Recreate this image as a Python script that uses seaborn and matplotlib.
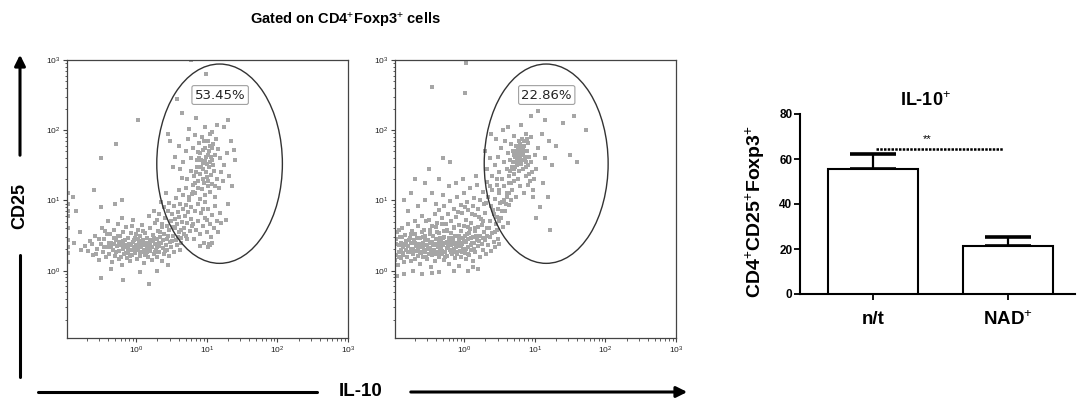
import matplotlib
matplotlib.use("Agg")
import numpy as np
import pandas as pd
import seaborn as sns
import matplotlib.pyplot as plt
from matplotlib.patches import Ellipse, FancyArrowPatch
from matplotlib.lines import Line2D
from matplotlib.ticker import LogLocator, NullFormatter, FixedLocator

# ---------------- data ----------------
# flow-cytometry events as (log10 IL-10, log10 CD25)
NT_POINTS = [
    (-0.72,0.35),(-0.68,0.28),(-0.65,0.42),(-0.61,0.22),(-0.58,0.50),(-0.55,0.31),(-0.53,0.15),(-0.50,0.38),(-0.49,0.61),(-0.47,0.27),
    (-0.45,0.45),(-0.43,0.19),(-0.41,0.33),(-0.40,0.70),(-0.38,0.24),(-0.37,0.52),(-0.35,0.40),(-0.34,0.12),(-0.33,0.30),(-0.31,0.58),
    (-0.30,0.21),(-0.29,0.44),(-0.27,0.35),(-0.26,0.66),(-0.25,0.16),(-0.24,0.28),(-0.23,0.49),(-0.21,0.39),(-0.20,0.08),(-0.19,0.31),
    (-0.18,0.55),(-0.17,0.23),(-0.16,0.43),(-0.15,0.34),(-0.14,0.62),(-0.13,0.18),(-0.12,0.27),(-0.11,0.47),(-0.10,0.38),(-0.09,0.13),
    (-0.08,0.30),(-0.07,0.53),(-0.06,0.22),(-0.05,0.41),(-0.04,0.72),(-0.03,0.33),(-0.02,0.25),(-0.01,0.46),(0.00,0.36),(0.01,0.17),
    (0.02,0.58),(0.03,0.29),(0.04,0.40),(0.05,0.21),(0.06,0.49),(0.07,0.33),(0.08,0.65),(0.09,0.26),(0.10,0.44),(0.11,0.11),
    (0.12,0.37),(0.13,0.54),(0.14,0.23),(0.15,0.31),(0.16,0.47),(0.17,0.19),(0.18,0.39),(0.19,0.60),(0.20,0.28),(0.21,0.42),
    (0.22,0.15),(0.23,0.34),(0.24,0.51),(0.25,0.24),(0.26,0.68),(0.27,0.38),(0.28,0.30),(0.29,0.45),(0.30,0.20),(0.31,0.56),
    (0.32,0.35),(0.33,0.27),(0.34,0.48),(0.35,0.40),(0.36,0.14),(0.37,0.62),(0.38,0.32),(0.39,0.24),(0.40,0.52),(0.42,0.37),
    (0.43,0.45),(0.44,0.29),(0.46,0.58),(0.47,0.21),(0.48,0.41),(0.50,0.34),(0.52,0.50),(0.54,0.27),(0.56,0.44),(0.58,0.36),
    (0.60,0.55),(0.62,0.30),(0.64,0.47),(-0.22,0.36),(-0.05,0.29),(0.09,0.38),(0.16,0.27),(-0.28,0.26),(-0.12,0.35),(0.03,0.45),
    (0.21,0.33),(-0.36,0.33),(0.12,0.22),(-0.01,0.31),(0.27,0.26),(-0.18,0.42),(0.06,0.27),(-0.09,0.21),(0.19,0.44),(-0.25,0.41),
    (0.33,0.39),(0.00,0.52),(-0.14,0.25),(0.14,0.36),(0.24,0.42),(-0.32,0.47),(-0.06,0.64),(0.10,0.57),(-0.44,0.56),(-0.20,0.75),
    (-0.62,0.38),(-0.57,0.24),(-0.52,0.45),(-0.46,0.33),(-0.42,0.52),(-0.39,0.40),(-0.32,0.38),(-0.26,0.50),(-0.22,0.20),(-0.16,0.36),
    (-0.11,0.29),(-0.07,0.37),(-0.03,0.43),(0.02,0.34),(0.07,0.42),(0.11,0.30),(0.15,0.40),(0.20,0.36),(0.25,0.47),(0.29,0.33),
    (0.34,0.55),(0.38,0.44),(0.41,0.28),(0.45,0.50),(0.51,0.42),(0.55,0.60),(0.59,0.48),(0.63,0.40),(0.68,0.52),(0.72,0.45),
    (0.30,0.72),(0.33,0.81),(0.36,0.66),(0.39,0.90),(0.41,0.75),(0.44,0.63),(0.45,0.85),(0.47,0.97),(0.49,0.70),(0.51,0.80),
    (0.52,0.62),(0.53,0.92),(0.55,0.73),(0.57,1.03),(0.58,0.66),(0.59,0.84),(0.61,0.76),(0.62,0.95),(0.63,0.58),(0.65,0.69),
    (0.66,0.88),(0.67,1.08),(0.68,0.60),(0.69,0.78),(0.70,0.50),(0.71,0.93),(0.72,0.68),(0.74,0.83),(0.75,1.00),(0.76,0.56),
    (0.77,0.74),(0.78,0.90),(0.79,0.64),(0.80,1.12),(0.35,0.98),(0.25,0.85),(0.18,0.78),(0.42,1.10),
    (0.82,0.45),(0.85,0.58),(0.88,0.70),(0.90,0.52),(0.92,0.82),(0.94,0.63),(0.96,0.40),(0.98,0.75),(1.00,0.55),(1.02,0.88),
    (1.03,0.38),(1.04,0.67),(1.06,0.48),(1.08,0.79),(1.10,0.60),(1.12,0.92),(1.14,0.70),(1.05,0.36),(1.01,0.34),(1.08,0.40),
    (0.84,0.85),(0.87,0.95),(0.91,0.35),(0.97,0.98),(1.16,0.55),(1.18,0.82),(0.81,0.66),(0.95,0.88),(1.00,0.72),(1.20,0.68),
    (0.70,1.18),(0.72,1.30),(0.75,1.05),(0.77,1.42),(0.80,1.22),(0.82,1.35),(0.84,1.10),(0.86,1.48),(0.88,1.27),(0.90,1.02),
    (0.91,1.38),(0.93,1.16),(0.95,1.45),(0.96,1.25),(0.98,1.08),(1.00,1.33),(1.01,1.20),(1.03,1.47),(1.05,1.12),(1.06,1.36),
    (1.08,1.24),(1.10,1.42),(1.12,1.05),(1.14,1.30),(1.17,1.18),(1.20,1.40),(1.23,1.28),(0.65,1.32),(0.60,1.15),(0.62,1.45),
    (0.87,1.17),(0.94,1.31),(1.02,1.28),(0.99,1.41),(0.79,1.09),(1.11,1.21),
    (0.89,1.60),(0.94,1.72),(1.02,1.64),(1.07,1.75),(0.97,1.56),(0.85,1.40),(1.04,1.55),(0.92,1.48),(0.83,1.25),(1.09,1.50),
    (0.55,1.62),(0.60,1.78),(0.66,1.55),(0.70,1.70),(0.74,1.88),(0.78,1.60),(0.81,1.75),(0.84,1.93),(0.86,1.58),(0.89,1.82),
    (0.91,1.67),(0.93,1.90),(0.95,1.53),(0.97,1.74),(0.99,1.62),(1.01,1.85),(1.03,1.70),(1.05,1.95),(1.07,1.57),(1.09,1.80),
    (1.11,1.65),(1.13,1.88),(1.16,1.73),(1.19,1.60),(0.96,1.84),(1.04,1.78),(0.88,1.69),(1.00,1.52),(1.06,1.62),(0.92,1.58),
    (0.48,1.85),(0.52,1.48),(0.45,1.95),(0.75,2.02),(0.98,2.05),(1.08,1.98),(1.15,2.08),
    (1.25,1.50),(1.28,1.68),(1.32,1.35),(1.36,1.20),(1.40,1.58),(1.30,0.95),(1.27,0.72),(1.38,1.72),(1.24,2.05),(1.34,1.85),
    (-0.97,0.25),(-0.97,0.44),(-0.97,0.60),(-0.97,0.78),(-0.97,0.95),(-0.97,1.10),(-0.97,0.12),(-0.96,0.34),(-0.96,0.85),
    (-0.90,1.05),(-0.85,0.85),(-0.80,0.55),(-0.78,0.30),(-0.88,0.40),(-0.30,0.95),(-0.50,0.90),(-0.60,1.15),(-0.20,1.00),
    (0.02,2.14),(-0.28,1.80),(-0.50,1.60),(0.99,2.80),(0.78,3.00),(0.58,2.45),(0.65,2.25),(0.85,2.18),(1.30,2.15),
    (0.18,-0.19),(-0.19,-0.13),(-0.50,-0.10),(0.05,-0.02),(-0.35,0.02),(0.45,0.08),(0.30,0.00),
]

NAD_POINTS = [
    (-0.99,0.30),(-0.98,0.15),(-0.97,0.45),(-0.96,0.22),(-0.95,0.55),(-0.94,0.08),(-0.93,0.36),(-0.92,0.27),(-0.91,0.48),(-0.90,0.18),
    (-0.89,0.40),(-0.88,0.60),(-0.87,0.25),(-0.86,0.33),(-0.85,0.12),(-0.84,0.51),(-0.83,0.29),(-0.82,0.42),(-0.81,0.20),(-0.80,0.66),
    (-0.79,0.35),(-0.78,0.26),(-0.77,0.47),(-0.76,0.14),(-0.75,0.39),(-0.74,0.57),(-0.73,0.23),(-0.72,0.31),(-0.71,0.44),(-0.70,0.17),
    (-0.69,0.52),(-0.68,0.28),(-0.67,0.37),(-0.66,0.63),(-0.65,0.21),(-0.64,0.46),(-0.63,0.10),(-0.62,0.34),(-0.61,0.25),(-0.60,0.55),
    (-0.59,0.40),(-0.58,0.19),(-0.57,0.30),(-0.56,0.49),(-0.55,0.27),(-0.54,0.70),(-0.53,0.36),(-0.52,0.16),(-0.51,0.43),(-0.50,0.24),
    (-0.49,0.58),(-0.48,0.32),(-0.47,0.05),(-0.46,0.41),(-0.45,0.22),(-0.44,0.50),(-0.43,0.29),(-0.42,0.38),(-0.41,0.13),(-0.40,0.62),
    (-0.39,0.26),(-0.38,0.45),(-0.37,0.34),(-0.36,0.19),(-0.35,0.53),(-0.34,0.30),(-0.33,0.42),(-0.32,0.24),(-0.31,0.67),(-0.30,0.36),
    (-0.29,0.15),(-0.28,0.48),(-0.27,0.27),(-0.26,0.39),(-0.25,0.57),(-0.24,0.21),(-0.23,0.33),(-0.22,0.46),(-0.21,0.10),(-0.20,0.29),
    (-0.19,0.54),(-0.18,0.37),(-0.17,0.23),(-0.16,0.44),(-0.15,0.31),(-0.14,0.61),(-0.13,0.18),(-0.12,0.40),(-0.11,0.26),(-0.10,0.50),
    (-0.09,0.35),(-0.08,0.07),(-0.07,0.43),(-0.06,0.28),(-0.05,0.56),(-0.04,0.20),(-0.03,0.38),(-0.02,0.47),(-0.01,0.31),(0.00,0.64),
    (0.01,0.25),(0.02,0.41),(0.03,0.16),(0.04,0.52),(0.05,0.34),(0.06,0.45),(0.07,0.22),(0.08,0.59),(0.09,0.37),(0.10,0.29),
    (0.12,0.48),(0.13,0.13),(0.14,0.40),(0.15,0.56),(0.16,0.27),(0.18,0.44),(0.19,0.35),(0.20,0.62),(0.22,0.20),(0.23,0.50),
    (0.25,0.38),(0.26,0.30),(0.28,0.55),(0.29,0.43),(0.31,0.24),(0.33,0.60),(0.34,0.36),(0.36,0.48),(0.38,0.28),(0.40,0.53),
    (0.42,0.41),(0.44,0.33),(0.46,0.58),(0.48,0.45),(0.50,0.38),
    (-0.75,0.31),(-0.70,0.40),(-0.66,0.29),(-0.62,0.47),(-0.58,0.35),(-0.55,0.43),(-0.51,0.31),(-0.47,0.26),(-0.44,0.36),(-0.40,0.45),
    (-0.37,0.25),(-0.33,0.33),(-0.30,0.46),(-0.27,0.20),(-0.24,0.41),(-0.20,0.38),(-0.17,0.30),(-0.13,0.49),(-0.10,0.23),(-0.06,0.40),
    (-0.03,0.27),(0.01,0.49),(0.05,0.24),(0.09,0.46),(0.14,0.31),(-0.85,0.38),(-0.80,0.27),(-0.90,0.30),(-0.64,0.38),(-0.36,0.40),
    (-0.93,0.20),(-0.88,0.48),(-0.83,0.36),(-0.78,0.44),(-0.73,0.28),(-0.68,0.35),(-0.63,0.27),(-0.59,0.48),(-0.54,0.20),(-0.49,0.40),
    (-0.45,0.30),(-0.41,0.24),(-0.38,0.36),(-0.34,0.47),(-0.31,0.28),(-0.28,0.40),(-0.25,0.32),(-0.21,0.43),(-0.18,0.26),(-0.14,0.38),
    (-0.11,0.33),(-0.07,0.50),(-0.04,0.35),(0.00,0.42),(0.03,0.31),(0.07,0.53),(0.11,0.40),(0.17,0.50),(0.21,0.42),(0.27,0.46),
    (-0.97,0.38),(-0.92,0.58),(-0.86,0.22),(-0.76,0.52),(-0.67,0.46),(-0.57,0.58),(-0.48,0.52),(-0.39,0.55),(-0.29,0.56),(-0.19,0.47),
    (-0.85,-0.05),(-0.60,-0.05),(-0.35,-0.02),(-0.15,-0.01),(0.05,0.00),(0.20,0.02),(-0.95,-0.08),(-0.72,0.00),(0.12,0.05),(-0.45,-0.03),
    (-0.50,0.72),(-0.46,0.64),(-0.42,0.80),(-0.38,0.68),(-0.35,0.86),(-0.32,0.75),(-0.29,0.92),(-0.26,0.66),(-0.23,0.81),(-0.20,0.99),
    (-0.18,0.70),(-0.15,0.88),(-0.12,0.77),(-0.10,1.05),(-0.08,0.65),(-0.05,0.93),(-0.03,0.82),(0.00,1.10),(0.02,0.72),(0.04,0.98),
    (0.06,0.86),(0.08,1.18),(0.10,0.68),(0.12,0.92),(0.14,1.04),(0.16,0.79),(0.18,1.22),(0.20,0.88),(0.22,1.00),(0.24,0.74),
    (0.26,1.12),(0.28,0.95),(0.30,0.82),(0.32,1.26),(0.34,1.05),(0.36,0.70),(0.38,0.92),(0.40,1.15),(0.42,0.80),(0.44,1.02),
    (0.46,1.30),(0.48,0.88),(0.50,1.10),(0.52,0.75),(0.54,0.98),(0.56,1.20),(0.58,0.85),(0.60,1.05),(0.62,0.68),(0.64,0.93),
    (-0.60,0.78),(-0.70,0.70),(-0.80,0.85),(-0.65,0.92),(-0.55,1.00),(-0.45,1.10),(-0.40,0.95),(-0.30,1.08),(-0.22,1.20),(-0.12,1.25),
    (0.05,0.62),(0.15,0.60),(0.25,0.65),(0.35,0.60),(0.45,0.66),(0.55,0.62),(-0.25,0.58),(-0.15,0.62),(0.11,0.80),(0.21,0.76),
    (0.31,0.96),(0.41,0.86),(0.51,0.96),(0.01,0.90),(-0.09,0.84),(0.27,0.70),(0.37,1.20),(0.47,0.76),(-0.02,1.30),(0.17,1.35),
    (-0.35,1.30),(-0.55,1.25),(-0.75,1.10),(-0.85,1.00),
    (0.32,0.50),(0.37,0.70),(0.43,0.55),(0.49,0.70),(0.53,0.85),(0.59,0.95),(0.63,1.10),(0.67,1.25),(0.71,1.45),(0.75,1.58),
    (0.77,1.52),(0.81,1.66),(0.83,1.72),(0.79,1.80),(0.73,1.70),(0.87,1.48),(0.69,1.55),(0.65,1.42),(0.89,1.88),(0.85,1.85),
    (0.40,1.35),(0.43,1.50),(0.46,1.22),(0.48,1.62),(0.50,1.40),(0.52,1.75),(0.54,1.30),(0.56,1.55),(0.58,1.85),(0.60,1.45),
    (0.62,1.68),(0.63,1.25),(0.65,1.58),(0.66,1.80),(0.68,1.48),(0.69,1.70),(0.70,1.92),(0.71,1.38),(0.72,1.62),(0.73,1.55),
    (0.74,1.78),(0.75,1.50),(0.76,1.66),(0.77,1.85),(0.78,1.42),(0.79,1.60),(0.80,1.73),(0.81,1.52),(0.82,1.88),(0.83,1.65),
    (0.84,1.45),(0.85,1.78),(0.86,1.58),(0.87,1.95),(0.88,1.35),(0.89,1.70),(0.90,1.50),(0.91,1.82),(0.92,1.62),(0.93,1.28),
    (0.95,1.55),(0.96,1.40),(0.97,1.15),(0.98,1.05),(0.99,1.30),(0.72,1.48),(0.76,1.75),(0.80,1.58),(0.84,1.68),(0.88,1.55),
    (0.70,1.65),(0.78,1.70),(0.86,1.62),(0.74,1.62),(0.82,1.78),(0.64,1.35),(0.68,1.15),(0.73,1.05),(0.79,1.20),(0.85,1.10),
    (0.90,1.22),(0.61,1.10),(0.57,1.00),(0.66,1.00),(0.94,1.90),(0.55,2.00),(0.45,1.88),(0.38,1.95),(0.62,2.05),(0.80,2.08),
    (0.50,1.15),(0.92,1.38),(0.76,1.30),(0.70,1.28),(1.00,1.65),(1.02,1.45),(1.05,1.75),(0.36,1.60),(0.33,1.45),(0.30,1.70),
    (1.10,1.95),(1.15,1.60),(1.20,1.85),(1.25,1.50),(1.30,1.78),(1.40,2.10),(1.50,1.65),(1.60,1.55),(1.72,2.00),(1.55,2.20),
    (1.12,1.25),(1.18,1.05),(1.08,0.90),(1.21,0.58),(1.02,0.75),(1.15,2.15),(1.05,2.28),(0.95,2.20),
    (0.03,2.96),(-0.46,2.62),(0.01,2.53),(-0.20,1.55),(-0.50,1.45),(-0.70,1.30),(-0.30,1.60),
    (-0.99,0.60),(-0.99,0.75),(-0.99,0.88),(-0.99,-0.10),(-0.99,0.05),
]

GATE_PCT = ["53.45%", "22.86%"]

BAR_GROUPS = ["n/t", "NAD+"]
BAR_TICKLABELS = ["n/t", r"NAD$^{+}$"]
BAR_MEANS = [55.4, 21.5]
BAR_ERR = [6.7, 3.8]
SIG_LABEL = "**"
SIG_Y = 64.3

# ---------------- style ----------------
sns.set_style("ticks")
plt.rcParams["font.family"] = ["Liberation Sans", "DejaVu Sans"]
plt.rcParams["mathtext.fontset"] = "custom"
plt.rcParams["mathtext.rm"] = "Liberation Sans"
plt.rcParams["mathtext.it"] = "Liberation Sans:italic"
plt.rcParams["mathtext.bf"] = "Liberation Sans:bold"
plt.rcParams["text.color"] = "black"
plt.rcParams["axes.labelcolor"] = "black"
plt.rcParams["xtick.color"] = "black"
plt.rcParams["ytick.color"] = "black"

W, H = 1077, 404
fig = plt.figure(figsize=(W / 100, H / 100), dpi=100)


def fx(px):
    return px / W


def fy(py):
    return 1 - py / H


panel_lefts = [67, 395]
panel_w, panel_top, panel_bot = 281, 60, 338
ellipses = [(0.543, 0.627, 0.447, 0.717), (0.538, 0.627, 0.441, 0.717)]
label_pos = [(0.545, 0.874), (0.540, 0.874)]

for i, pts in enumerate([NT_POINTS, NAD_POINTS]):
    ax = fig.add_axes([fx(panel_lefts[i]), fy(panel_bot), panel_w / W, (panel_bot - panel_top) / H])
    arr = np.array(pts)
    df = pd.DataFrame({"IL10": 10 ** arr[:, 0], "CD25": 10 ** arr[:, 1]})
    sns.scatterplot(data=df, x="IL10", y="CD25", ax=ax, color="#a6a6a6", s=8,
                    marker="s", linewidth=0, legend=False)
    ax.set_xscale("log")
    ax.set_yscale("log")
    ax.set_xlim(10 ** -0.98, 1000)
    ax.set_ylim(10 ** -0.96, 1000)
    ax.xaxis.set_major_locator(FixedLocator([1, 10, 100, 1000]))
    ax.yaxis.set_major_locator(FixedLocator([1, 10, 100, 1000]))
    ax.xaxis.set_minor_locator(LogLocator(base=10, subs=np.arange(2, 10), numticks=20))
    ax.yaxis.set_minor_locator(LogLocator(base=10, subs=np.arange(2, 10), numticks=20))
    ax.xaxis.set_minor_formatter(NullFormatter())
    ax.yaxis.set_minor_formatter(NullFormatter())
    ax.set_xlabel("")
    ax.set_ylabel("")
    for s in ax.spines.values():
        s.set_color("#444444")
        s.set_linewidth(0.9)
    ax.tick_params(which="major", direction="out", length=3, width=0.8, color="#444444",
                   labelsize=6, labelcolor="#222222", pad=2)
    ax.tick_params(which="minor", direction="out", length=1.8, width=0.6, color="#444444")
    cx, cy, ew, eh = ellipses[i]
    ax.add_patch(Ellipse((cx, cy), ew, eh, transform=ax.transAxes, fill=False,
                         ec="#333333", lw=1.0, zorder=5))
    lx, ly = label_pos[i]
    ax.text(lx, ly, GATE_PCT[i], transform=ax.transAxes, ha="center", va="center",
            fontsize=9.5, family="DejaVu Sans", color="#222222", zorder=6,
            bbox=dict(boxstyle="round,pad=0.22,rounding_size=0.15", fc="white",
                      ec="#a0a0a0", lw=0.8))

# title above flow plots
fig.text(fx(345), fy(20), r"Gated on CD4$^{+}$Foxp3$^{+}$ cells", ha="center", va="center",
         fontsize=10.5, fontweight="bold")

# CD25 vertical arrow
ax_x = fx(20)
fig.add_artist(Line2D([ax_x, ax_x], [fy(377), fy(255)], color="black", lw=2.2))
fig.add_artist(FancyArrowPatch((ax_x, fy(158)), (ax_x, fy(52)), transform=fig.transFigure,
                               arrowstyle="-|>", mutation_scale=16, color="black", lw=2.2))
fig.text(ax_x, fy(206), "CD25", rotation=90, ha="center", va="center",
         fontsize=13, fontweight="bold")

# IL-10 horizontal arrow
ay = fy(392)
fig.add_artist(Line2D([fx(38), fx(317)], [ay, ay], color="black", lw=2.2))
fig.add_artist(FancyArrowPatch((fx(408), ay), (fx(690), ay), transform=fig.transFigure,
                               arrowstyle="-|>", mutation_scale=16, color="black", lw=2.2))
fig.text(fx(361), ay, "IL-10", ha="center", va="center", fontsize=13.5, fontweight="bold")

# ---------------- bar chart ----------------
bax = fig.add_axes([fx(800), fy(294), 275 / W, 180 / H])
bdf = pd.DataFrame({"group": BAR_GROUPS, "value": BAR_MEANS})
sns.barplot(data=bdf, x="group", y="value", ax=bax, color="white", edgecolor="black",
            linewidth=1.5, width=0.667, errorbar=None, zorder=3)
bax.errorbar(np.arange(len(BAR_MEANS)), BAR_MEANS, yerr=[np.zeros(len(BAR_ERR)), BAR_ERR],
             fmt="none", ecolor="black", elinewidth=1.6, capsize=16.5, capthick=2.6, zorder=2)
bax.set_xlim(-0.54, 1.5)
bax.set_ylim(0, 80)
bax.set_yticks([0, 20, 40, 60, 80])
bax.set_xticks([0, 1])
bax.set_xticklabels(BAR_TICKLABELS, fontsize=13.5, fontweight="bold")
for lab in bax.get_yticklabels():
    lab.set_fontweight("bold")
bax.tick_params(axis="y", labelsize=8.5, length=4, width=1.3, direction="out", pad=1.5)
bax.tick_params(axis="x", length=4, width=1.3, direction="out", pad=8)
sns.despine(ax=bax)
for s in ["left", "bottom"]:
    bax.spines[s].set_linewidth(1.5)
    bax.spines[s].set_color("black")
bax.set_xlabel("")
bax.set_ylabel(r"CD4$^{+}$CD25$^{+}$Foxp3$^{+}$", fontsize=14, fontweight="bold")
bax.yaxis.set_label_coords(-0.12, 0.46)
bax.text((925 - 872.7) / 135, (294 - 101) / 2.25, r"IL-10$^{+}$", ha="center", va="center",
         fontsize=13, fontweight="bold", clip_on=False)
bax.plot([0.024, 0.967], [SIG_Y, SIG_Y], color="black", lw=1.8, linestyle=(0, (1, 0.5)),
         clip_on=False)
bax.text(0.40, SIG_Y + 4.5, SIG_LABEL, ha="center", va="center", fontsize=8)

fig.savefig("out.png", dpi=100)
